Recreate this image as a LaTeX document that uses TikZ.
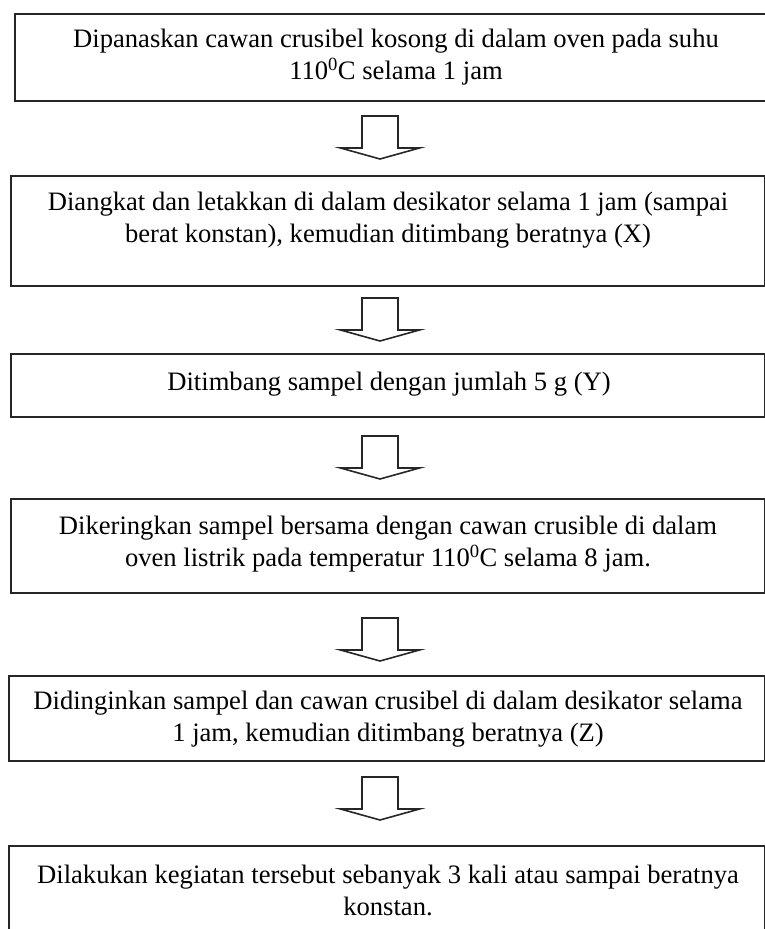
\documentclass[tikz,border=0pt]{standalone}
\usepackage{fontspec}
\setmainfont{Liberation Serif}
\usetikzlibrary{calc}

\tikzset{
  box/.style={draw=black!85, line width=2pt, inner sep=0pt, anchor=north west},
  txt/.style={font=\fontsize{26.6}{32}\selectfont, align=center, text=black, inner sep=0pt},
  blockarrow/.style={draw=black!85, line width=1.6pt, line join=miter},
  pics/downarrow/.style={code={
    \draw[blockarrow] (-18,0) -- (18,0) -- (18,32) -- (39.5,32) -- (0,43)
      -- (-39.5,32) -- (-18,32) -- cycle;
  }}
}

\begin{document}
\begin{tikzpicture}[x=1pt, y=-1pt]
  \useasboundingbox (0,0) rectangle (765,929);
  \clip (0,0) rectangle (765,929);

  % process boxes
  \node[box, minimum width=764pt, minimum height=87pt]  (b1) at (14,13)  {};
  \node[box, minimum width=754pt, minimum height=110pt] (b2) at (10,175) {};
  \node[box, minimum width=754pt, minimum height=63pt]  (b3) at (10,353) {};
  \node[box, minimum width=754pt, minimum height=94pt]  (b4) at (10,498) {};
  \node[box, minimum width=756pt, minimum height=85pt]  (b5) at (8,675)  {};
  \node[box, minimum width=756pt, minimum height=110pt] (b6) at (8,845)  {};

  % step texts
  \node[txt] (t1) at (396,57)  {Dipanaskan cawan crusibel kosong di dalam oven pada suhu\\110\textsuperscript{0}C selama 1 jam};
  \node[txt] (t2) at (388,220) {Diangkat dan letakkan di dalam desikator selama 1 jam (sampai\\berat konstan), kemudian ditimbang beratnya (X)};
  \node[txt] (t3) at (389,384) {Ditimbang sampel dengan jumlah 5 g (Y)};
  \node[txt] (t4) at (388,544) {Dikeringkan sampel bersama dengan cawan crusible di dalam\\oven listrik pada temperatur 110\textsuperscript{0}C selama 8 jam.};
  \node[txt] (t5) at (388,719) {Didinginkan sampel dan cawan crusibel di dalam desikator selama\\1 jam, kemudian ditimbang beratnya (Z)};
  \node[txt] (t6) at (388,890) {Dilakukan kegiatan tersebut sebanyak 3 kali atau sampai beratnya\\konstan.};

  % block arrows between the boxes
  \coordinate (a1) at (380,116);
  \coordinate (a2) at (380,298);
  \coordinate (a3) at (380,436);
  \coordinate (a4) at (380,618);
  \coordinate (a5) at (380,777);
  \foreach \a in {a1,a2,a3,a4,a5} {
    \pic at (\a) {downarrow};
  }
\end{tikzpicture}
\end{document}
